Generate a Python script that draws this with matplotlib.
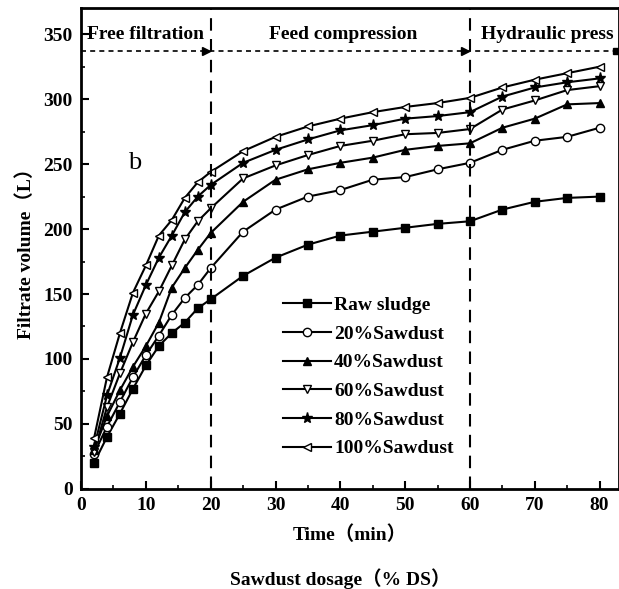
import matplotlib
matplotlib.use('Agg')
import matplotlib.pyplot as plt

plt.rcParams['font.family'] = ['Liberation Serif', 'Noto Sans CJK SC']
plt.rcParams['font.weight'] = 'bold'

# Time points (min)
time = [2, 4, 6, 8, 10, 12, 14, 16, 18, 20, 25, 30, 35, 40, 45, 50, 55, 60, 65, 70, 75, 80]

# Filtrate volume (L) for each sample
raw_sludge = [20, 40, 58, 77, 95, 110, 120, 128, 139, 146, 164, 178, 188, 195, 198, 201, 204, 206, 215, 221, 224, 225]
sawdust_20 = [27, 48, 67, 86, 103, 118, 134, 147, 157, 170, 198, 215, 225, 230, 238, 240, 246, 251, 261, 268, 271, 278]
sawdust_40 = [30, 56, 76, 94, 110, 128, 155, 170, 184, 197, 221, 238, 246, 251, 255, 261, 264, 266, 278, 285, 296, 297]
sawdust_60 = [28, 63, 89, 113, 135, 152, 172, 192, 206, 216, 239, 249, 257, 264, 268, 273, 274, 277, 292, 299, 307, 310]
sawdust_80 = [32, 72, 101, 134, 157, 178, 195, 213, 225, 234, 251, 261, 269, 276, 280, 285, 287, 290, 302, 309, 313, 316]
sawdust_100 = [39, 86, 120, 151, 172, 195, 207, 224, 236, 244, 260, 271, 279, 285, 290, 294, 297, 301, 309, 315, 320, 325]

labels = ['Raw sludge', '20%Sawdust', '40%Sawdust', '60%Sawdust', '80%Sawdust', '100%Sawdust']
markers = ['s', 'o', '^', 'v', '*', '<']
faces = ['black', 'white', 'black', 'white', 'black', 'white']
series = [raw_sludge, sawdust_20, sawdust_40, sawdust_60, sawdust_80, sawdust_100]

# Stage boundaries and labels
stage_bounds = [20, 60]
stage_names = ['Free filtration', 'Feed compression', 'Hydraulic press']
stage_centers = [9.9, 40.4, 72]

fs = 14

fig = plt.figure(figsize=(6.19, 5.89), dpi=100)
ax = fig.add_axes([0.131, 0.170, 0.869, 0.816])

for y, lab, mk, fc in zip(series, labels, markers, faces):
    ms = 8 if mk == '*' else 6
    ax.plot(time, y, color='black', lw=1.5, marker=mk, markersize=ms,
            markerfacecolor=fc, markeredgecolor='black', markeredgewidth=1.0, label=lab)

# vertical stage lines
for xb in stage_bounds:
    ax.axvline(xb, color='black', lw=1.5, ls=(0, (6, 4)))

# horizontal dotted arrow line
ax.plot([0, 82.6], [337, 337], color='black', lw=1.2, ls=(0, (3, 2.5)), clip_on=False)
ax.plot([19.3, 59.3], [337, 337], ls='none', marker='>', color='black', markersize=6)
ax.plot([82.6], [337], ls='none', marker='s', color='black', markersize=5, clip_on=False)

for name, xc in zip(stage_names, stage_centers):
    ax.text(xc, 350, name, ha='center', va='center', fontsize=fs, fontweight='bold')

ax.text(8.3, 251, 'b', fontsize=19, fontweight='normal', ha='center', va='center')

ax.set_xlim(0, 83)
ax.set_ylim(0, 370)
ax.set_xticks(range(0, 81, 10))
ax.set_xticks(range(5, 81, 10), minor=True)
ax.set_yticks(range(0, 351, 50))
ax.set_yticks(range(25, 351, 50), minor=True)
ax.tick_params(direction='in', which='major', length=6, width=1.5, labelsize=fs, pad=6)
ax.tick_params(direction='in', which='minor', length=3, width=1.2)
for lbl in ax.get_xticklabels() + ax.get_yticklabels():
    lbl.set_fontweight('bold')
for s in ax.spines.values():
    s.set_linewidth(2)

ax.set_xlabel('Time（min）', fontsize=fs, fontweight='bold', labelpad=8)
ax.set_ylabel('Filtrate volume（L）', fontsize=fs, fontweight='bold', labelpad=6)
fig.text(0.55, 0.018, 'Sawdust dosage（% DS）', ha='center', va='center', fontsize=fs, fontweight='bold')

leg = ax.legend(loc='upper left', bbox_to_anchor=(0.342, 0.437), frameon=False,
                handlelength=2.5, labelspacing=0.57, handletextpad=0.15,
                prop={'weight': 'bold', 'size': fs})

fig.savefig('out.png', dpi=100)
